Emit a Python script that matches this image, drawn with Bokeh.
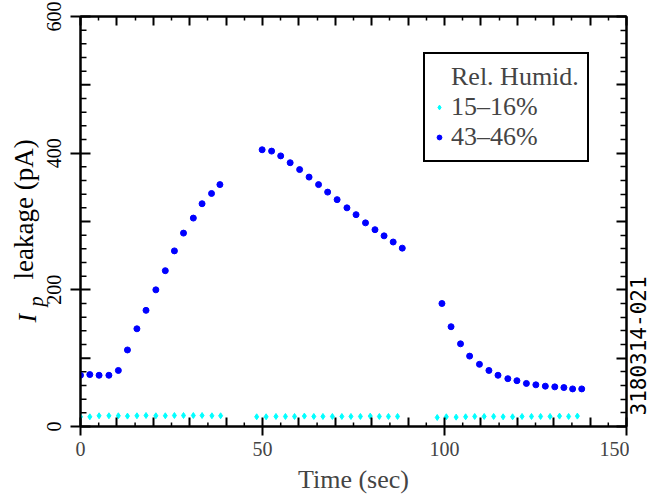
import math
from bokeh.plotting import figure
from bokeh.layouts import row
from bokeh.models import Range1d, LinearAxis, FixedTicker, Legend, LegendItem
from bokeh.core.properties import value
from bokeh.embed import file_html
from bokeh.resources import INLINE

# ---------------- data ----------------
t_hi_1 = [0, 2.56, 5.1, 7.8, 10.4, 12.9, 15.5, 18.0, 20.7, 23.3, 25.8, 28.3, 31.0, 33.4, 36.0, 38.3]
i_hi_1 = [75, 76, 75, 75, 82, 112, 143, 170, 200, 228, 257, 283, 305, 326, 341, 354]
t_hi_2 = [49.9, 52.5, 55.0, 57.6, 60.2, 62.8, 65.4, 67.9, 70.5, 73.2, 75.7, 78.3, 80.9, 83.4, 85.9, 88.4]
i_hi_2 = [405, 403, 396, 386, 376, 365, 354, 343, 332, 320, 310, 298, 288, 279, 270, 261]
t_hi_3 = [99.3, 101.8, 104.4, 106.9, 109.6, 112.2, 114.7, 117.4, 119.9, 122.5, 125.1, 127.7, 130.3, 132.8, 135.2, 137.7]
i_hi_3 = [180, 146, 121, 103, 91, 82, 75, 70, 67, 63, 61, 59, 58, 57, 55, 55]

t_lo_1 = [0, 2.56, 5.1, 7.8, 10.4, 12.9, 15.5, 18.0, 20.7, 23.3, 25.8, 28.3, 31.0, 33.4, 36.1, 38.5]
i_lo_1 = [14.2, 14.2, 15.7, 15.7, 15.7, 15.2, 15.7, 16.1, 15.7, 15.7, 16.1, 16.1, 16.1, 16.1, 15.7, 15.7]
t_lo_2 = [48.4, 51.0, 53.7, 56.3, 58.8, 61.5, 64.1, 66.6, 69.2, 71.8, 74.3, 76.9, 79.6, 82.1, 84.6, 87.1]
i_lo_2 = [14.2, 14.2, 14.7, 14.7, 14.7, 15.2, 14.7, 14.7, 14.7, 14.7, 14.7, 14.7, 15.2, 14.7, 14.7, 14.7]
t_lo_3 = [98.0, 100.5, 103.2, 105.8, 108.3, 110.9, 113.5, 116.1, 118.7, 121.3, 123.9, 126.4, 129.0, 131.6, 134.1, 136.5]
i_lo_3 = [13.2, 14.2, 13.7, 14.2, 14.7, 14.7, 14.7, 14.2, 14.2, 14.7, 14.7, 14.7, 14.7, 15.2, 14.7, 15.2]

series_labels = ["15\u201316%", "43\u201346%"]
legend_title = "Rel. Humid."
x_label = "Time (sec)"
y_label_parts = ["I", "p", "leakage (pA)"]
figure_id = "3180314-021"

x_major = [0, 50, 100, 150]
x_medium = [10, 20, 30, 40, 60, 70, 80, 90, 110, 120, 130, 140]
x_short = [5, 15, 25, 35, 45, 55, 65, 75, 85, 95, 105, 115, 125, 135, 145]
x_top_major = [0, 10, 20, 30, 40, 50, 60, 70, 80, 90, 100, 110, 120, 130, 140, 150]
y_major = [0, 200, 400, 600]
y_major_labels = ["0", "200", "400", "600"]
y_medium = [100, 300, 500]
y_short = [20, 40, 60, 80, 120, 140, 160, 180, 220, 240, 260, 280, 320, 340, 360, 380,
           420, 440, 460, 480, 520, 540, 560, 580]
y_right_major = [0, 100, 200, 300, 400, 500, 600]

SERIF = "Liberation Serif"
W, H = 647, 501
WL, WR = 64, 18
WM = W - WL - WR
FRAME_TOP, FRAME_BOTTOM, FRAME_LEFT, FRAME_RIGHT = 16, 426, 80, 626
Y0, Y1 = 0, 600

y_range = Range1d(Y0, Y1)

_probe = figure(width=10, height=10)
CAN_UNALIGN = "frame_align" in _probe.properties()
del _probe

if CAN_UNALIGN:
    # strip frames cover the whole strip; map the value axis so it lines up with the main frame
    k = (FRAME_BOTTOM - FRAME_TOP) / (Y1 - Y0)
    strip_y = (Y0 - (H - FRAME_BOTTOM) / k, Y1 + FRAME_TOP / k)
    px_range = (0, H)
else:
    strip_y = (Y0, Y1)
    px_range = (H - FRAME_BOTTOM, H - FRAME_TOP)


def strip(width):
    s = figure(width=width, height=H, output_backend="svg", toolbar_location=None,
               x_range=Range1d(0, width), y_range=Range1d(*strip_y),
               min_border=0, x_axis_location=None, y_axis_location=None)
    if CAN_UNALIGN:
        s.frame_align = False
    s.extra_y_ranges = {"px": Range1d(*px_range)}
    s.grid.visible = False
    s.outline_line_color = None
    s.background_fill_color = "white"
    s.border_fill_color = "white"
    return s


# ---------------- main plot ----------------
p = figure(width=WM, height=H, output_backend="svg", toolbar_location=None,
           x_range=Range1d(0, 150), y_range=y_range,
           min_border_left=FRAME_LEFT - WL, min_border_right=WL + WM - FRAME_RIGHT,
           min_border_top=FRAME_TOP, min_border_bottom=H - FRAME_BOTTOM,
           x_axis_location=None, y_axis_location=None)
p.grid.visible = False
p.outline_line_color = "black"
p.outline_line_width = 2
p.background_fill_color = "white"
p.border_fill_color = "white"

xb = LinearAxis(ticker=FixedTicker(ticks=x_major, minor_ticks=x_medium))
xb.axis_label = x_label
xb.axis_label_text_font = SERIF
xb.axis_label_text_font_style = "normal"
xb.axis_label_text_font_size = "26px"
xb.axis_label_standoff = 6
xb.major_label_text_font = SERIF
xb.major_label_text_font_size = "20px"
xb.major_label_standoff = 6
xb.major_tick_in = 9
xb.major_tick_out = 9
xb.minor_tick_in = 9
xb.minor_tick_out = 0
xb.axis_line_width = 2
xb.major_tick_line_width = 2
xb.minor_tick_line_width = 2
p.add_layout(xb, "below")

# left axis: only the crossing ticks (labels are drawn in the left strip)
yl = LinearAxis(ticker=FixedTicker(ticks=[], minor_ticks=y_major))
yl.minor_tick_in = 10
yl.minor_tick_out = 10
yl.major_tick_out = 0
yl.major_label_standoff = 0
yl.axis_line_width = 2
yl.minor_tick_line_width = 2
p.add_layout(yl, "left")

xt = LinearAxis(ticker=FixedTicker(ticks=x_top_major, minor_ticks=x_short))
xt.major_label_overrides = {t: "" for t in x_top_major}
xt.major_label_standoff = 0
xt.major_tick_in = 9
xt.major_tick_out = 0
xt.minor_tick_in = 4
xt.minor_tick_out = 0
xt.axis_line_width = 2
xt.major_tick_line_width = 2
xt.minor_tick_line_width = 1.5
p.add_layout(xt, "above")

yr = LinearAxis(ticker=FixedTicker(ticks=y_right_major, minor_ticks=y_short))
yr.major_label_overrides = {t: "" for t in y_right_major}
yr.major_label_standoff = 0
yr.major_tick_in = 10
yr.major_tick_out = 0
yr.minor_tick_in = 6
yr.minor_tick_out = 0
yr.axis_line_width = 2
yr.major_tick_line_width = 2
yr.minor_tick_line_width = 1.5
p.add_layout(yr, "right")

# inward-only ticks on the bottom and left edges (clipped to the frame)
p.scatter(x=x_short, y=[0] * len(x_short), marker="dash", size=8, angle=math.pi / 2,
          line_color="black", line_width=1.5)
p.scatter(x=[0] * len(y_short), y=y_short, marker="dash", size=12,
          line_color="black", line_width=1.5)
p.scatter(x=[0] * len(y_medium), y=y_medium, marker="dash", size=20,
          line_color="black", line_width=2)

lo_t = t_lo_1 + t_lo_2 + t_lo_3
lo_i = i_lo_1 + i_lo_2 + i_lo_3
hi_t = t_hi_1 + t_hi_2 + t_hi_3
hi_i = i_hi_1 + i_hi_2 + i_hi_3

r_lo = p.scatter(x=lo_t, y=lo_i, marker="diamond", size=6,
                 fill_color="cyan", line_color="cyan")
r_hi = p.scatter(x=hi_t, y=hi_i, marker="circle", size=6,
                 fill_color="blue", line_color="blue")
r_title = p.scatter(x=[], y=[], marker="circle", size=0, fill_alpha=0, line_alpha=0)

legend = Legend(items=[LegendItem(label=legend_title, renderers=[r_title]),
                       LegendItem(label=series_labels[0], renderers=[r_lo]),
                       LegendItem(label=series_labels[1], renderers=[r_hi])],
                location=(343, 264))
legend.label_text_font = SERIF
legend.label_text_font_size = "26px"
legend.label_height = 30
legend.glyph_height = 20
legend.glyph_width = 12
legend.label_standoff = 6
legend.spacing = 0
legend.padding = 8
legend.margin = 0
legend.border_line_color = "black"
legend.border_line_alpha = 1
legend.border_line_width = 2
legend.background_fill_alpha = 1
p.add_layout(legend, "center")

# ---------------- left strip: y tick labels and y-axis title ----------------
sl = strip(WL)
sl.text(x=[53] * len(y_major), y=y_major, text=y_major_labels, angle=math.pi / 2,
        text_font=value(SERIF), text_font_size="20px",
        text_baseline="alphabetic", text_align="center", text_color="black")
sl.text(x=[27], y=[H - 322], text=[y_label_parts[0]], angle=math.pi / 2, y_range_name="px",
        text_font=value(SERIF), text_font_size="26px", text_font_style="italic",
        text_baseline="alphabetic", text_align="left", text_color="black")
sl.text(x=[35], y=[H - 306], text=[y_label_parts[1]], angle=math.pi / 2, y_range_name="px",
        text_font=value(SERIF), text_font_size="20px", text_font_style="italic",
        text_baseline="alphabetic", text_align="left", text_color="black")
sl.text(x=[23], y=[H - 279], text=[y_label_parts[2]], angle=math.pi / 2, y_range_name="px",
        text_font=value(SERIF), text_font_size="27px",
        text_baseline="alphabetic", text_align="left", text_color="black")

# ---------------- right strip: figure id ----------------
sr = strip(WR)
sr.text(x=[8.5], y=[H - 415], text=[figure_id], angle=math.pi / 2, y_range_name="px",
        text_font=value("DejaVu Sans Mono"), text_font_size="21px",
        text_baseline="middle", text_align="left", text_color="black")

layout = row(sl, p, sr)
open("out.html", "w").write(file_html(layout, INLINE))
